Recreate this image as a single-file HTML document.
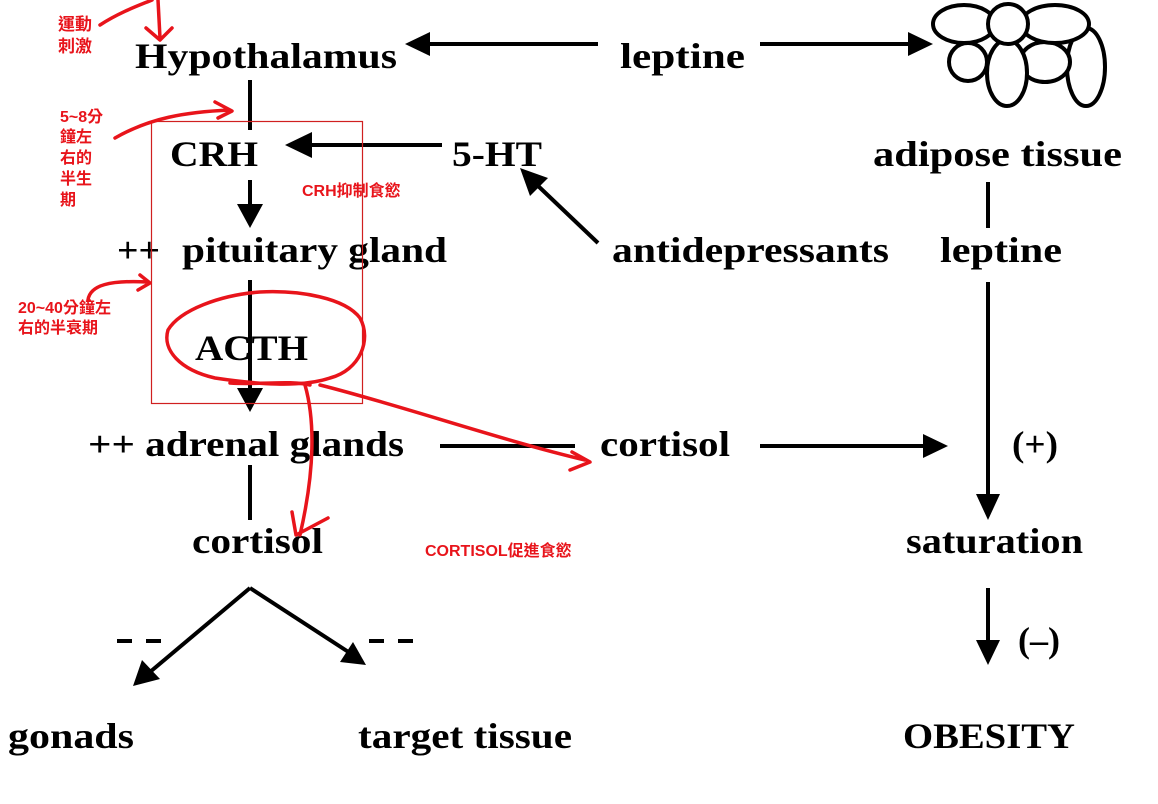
<!DOCTYPE html>
<html><head><meta charset="utf-8"><style>
html,body{margin:0;padding:0;background:#fff;}
svg{display:block;}
.t{font-family:"Liberation Serif",serif;font-weight:bold;font-size:36px;fill:#000;}
.r{font-family:"Liberation Sans","Noto Sans CJK TC",sans-serif;font-weight:bold;fill:#e8141b;}
</style></head><body>
<svg width="1158" height="804" viewBox="0 0 1158 804" xmlns="http://www.w3.org/2000/svg">
<defs>
<marker id="a" viewBox="0 0 10 10" refX="9" refY="5" markerWidth="9" markerHeight="9" markerUnits="userSpaceOnUse" orient="auto">
</marker>
</defs>
<g stroke="#000" stroke-width="4" fill="none">
<line x1="598" y1="44" x2="428" y2="44"/>
<line x1="760" y1="44" x2="910" y2="44"/>
<line x1="250" y1="80" x2="250" y2="130"/>
<line x1="442" y1="145" x2="310" y2="145"/>
<line x1="250" y1="180" x2="250" y2="210"/>
<line x1="598" y1="243" x2="535" y2="183"/>
<line x1="250" y1="280" x2="250" y2="392"/>
<line x1="440" y1="446" x2="575" y2="446"/>
<line x1="760" y1="446" x2="925" y2="446"/>
<line x1="988" y1="182" x2="988" y2="228"/>
<line x1="988" y1="282" x2="988" y2="500"/>
<line x1="250" y1="465" x2="250" y2="520"/>
<line x1="250" y1="588" x2="150" y2="672"/>
<line x1="250" y1="588" x2="350" y2="653"/>
<line x1="988" y1="588" x2="988" y2="645"/>
</g>
<g fill="#000">
<polygon points="405,44 430,32 430,56"/>
<polygon points="933,44 908,32 908,56"/>
<polygon points="285,145 312,132 312,158"/>
<polygon points="250,228 237,204 263,204"/>
<polygon points="520,168 548,178 530,196"/>
<polygon points="250,412 237,388 263,388"/>
<polygon points="948,446 923,434 923,458"/>
<polygon points="988,520 976,494 1000,494"/>
<polygon points="133,686 142,660 160,679"/>
<polygon points="366,665 340,662 353,642"/>
<polygon points="988,665 976,640 1000,640"/>
</g>
<g stroke="#000" stroke-width="4" fill="#fff">
<ellipse cx="1086" cy="67" rx="19" ry="39"/>
<ellipse cx="1045" cy="62" rx="25" ry="20"/>
<ellipse cx="968" cy="62" rx="19" ry="19"/>
<ellipse cx="1007" cy="73" rx="20" ry="33"/>
<ellipse cx="964" cy="24" rx="31" ry="19"/>
<ellipse cx="1055" cy="24" rx="34" ry="19"/>
<ellipse cx="1008" cy="24" rx="20" ry="20"/>
</g>
<text class="t" x="135" y="68" textLength="262" lengthAdjust="spacingAndGlyphs">Hypothalamus</text>
<text class="t" x="620" y="68" textLength="125" lengthAdjust="spacingAndGlyphs">leptine</text>
<text class="t" x="170" y="166" textLength="88" lengthAdjust="spacingAndGlyphs">CRH</text>
<text class="t" x="452" y="166" textLength="90" lengthAdjust="spacingAndGlyphs">5-HT</text>
<text class="t" x="873" y="166" textLength="249" lengthAdjust="spacingAndGlyphs">adipose tissue</text>
<text class="t" x="117" y="262" textLength="43" lengthAdjust="spacingAndGlyphs">++</text>
<text class="t" x="182" y="262" textLength="265" lengthAdjust="spacingAndGlyphs">pituitary gland</text>
<text class="t" x="612" y="262" textLength="277" lengthAdjust="spacingAndGlyphs">antidepressants</text>
<text class="t" x="940" y="262" textLength="122" lengthAdjust="spacingAndGlyphs">leptine</text>
<text class="t" x="195" y="360" textLength="113" lengthAdjust="spacingAndGlyphs">ACTH</text>
<text class="t" x="88" y="456" textLength="316" lengthAdjust="spacingAndGlyphs">++ adrenal glands</text>
<text class="t" x="600" y="456" textLength="130" lengthAdjust="spacingAndGlyphs">cortisol</text>
<text class="t" x="1012" y="456" textLength="46" lengthAdjust="spacingAndGlyphs">(+)</text>
<text class="t" x="192" y="553" textLength="131" lengthAdjust="spacingAndGlyphs">cortisol</text>
<text class="t" x="906" y="553" textLength="177" lengthAdjust="spacingAndGlyphs">saturation</text>
<g stroke="#000" stroke-width="4">
<line x1="117" y1="641" x2="132" y2="641"/><line x1="146" y1="641" x2="161" y2="641"/>
<line x1="369" y1="641" x2="384" y2="641"/><line x1="398" y1="641" x2="413" y2="641"/>
</g>
<text class="t" x="1018" y="652" textLength="42" lengthAdjust="spacingAndGlyphs">(–)</text>
<text class="t" x="8" y="748" textLength="126" lengthAdjust="spacingAndGlyphs">gonads</text>
<text class="t" x="358" y="748" textLength="214" lengthAdjust="spacingAndGlyphs">target tissue</text>
<text class="t" x="903" y="748" textLength="172" lengthAdjust="spacingAndGlyphs">OBESITY</text>
<rect x="151.5" y="121.5" width="211" height="282" fill="none" stroke="#d02020" stroke-width="1.2"/>
<g stroke="#e8141b" stroke-width="3.5" fill="none" stroke-linecap="round" stroke-linejoin="round">
<path d="M100,25 C120,12 140,5 152,0"/>
<path d="M158,0 L160,38 M146,28 L160,40 L172,28"/>
<path d="M115,138 C150,118 185,112 230,110 M215,102 L232,111 L218,118"/>
<path d="M88,300 C90,285 110,280 148,282 M140,275 L150,283 L138,290"/>
<path d="M330,378 C360,370 372,340 360,318 C345,298 300,290 260,292 C220,295 180,310 168,330 C162,350 180,370 215,378 C255,384 300,388 330,378"/>
<path d="M310,385 C290,380 260,385 230,383"/>
<path d="M305,385 C315,420 315,470 300,535 M292,512 L296,535 L328,518"/>
<path d="M320,385 C400,405 500,440 585,460 M570,470 L590,462 L572,452"/>
</g>
<text class="r" x="58" y="30" font-size="17">運動</text>
<text class="r" x="58" y="52" font-size="17">刺激</text>
<text class="r" x="60" y="122" font-size="16">5~8分</text>
<text class="r" x="60" y="142" font-size="16">鐘左</text>
<text class="r" x="60" y="163" font-size="16">右的</text>
<text class="r" x="60" y="184" font-size="16">半生</text>
<text class="r" x="60" y="205" font-size="16">期</text>
<text class="r" x="18" y="313" font-size="16">20~40分鐘左</text>
<text class="r" x="18" y="333" font-size="16">右的半衰期</text>
<text class="r" x="302" y="196" font-size="16">CRH抑制食慾</text>
<text class="r" x="425" y="556" font-size="16">CORTISOL促進食慾</text>
</svg>
</body></html>
